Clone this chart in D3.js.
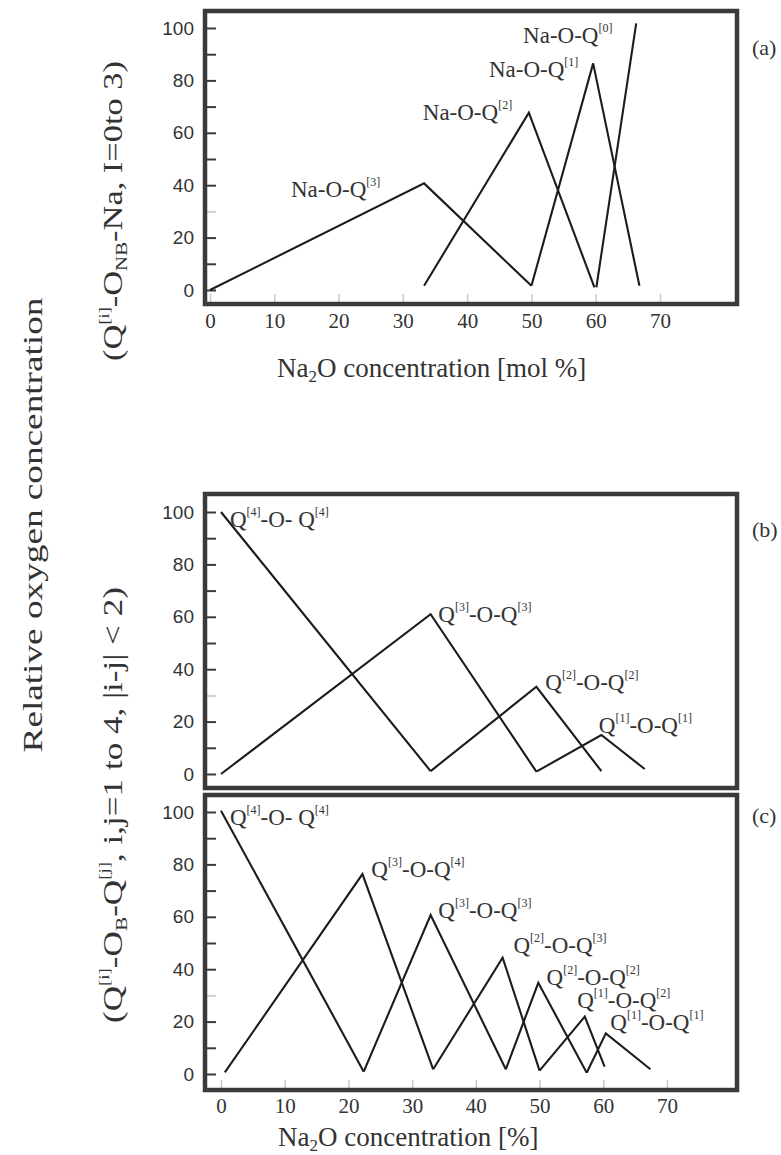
<!DOCTYPE html>
<html>
<head>
<meta charset="utf-8">
<script src="https://cdn.jsdelivr.net/npm/d3@7"></script>
<style>
  html, body { margin: 0; padding: 0; background: #ffffff; }
  svg { display: block; }
  text { white-space: pre; }
  .serif { font-family: "Liberation Serif", "Times New Roman", Times, serif; }
  .sans { font-family: "Liberation Sans", Arial, Helvetica, sans-serif; }
</style>
</head>
<body>
<svg id="fig" width="781" height="1155"></svg>
<script>
// ---- data -------------------------------------------------------------
const xTicks = [0, 10, 20, 30, 40, 50, 60, 70];
const yTicks = [0, 10, 20, 30, 40, 50, 60, 70, 80, 90, 100];
const yTickLabels = [0, 20, 40, 60, 80, 100];

// (a) non-bridging oxygens Na-O-Q[n]
const naOQ3 = [[0, 0], [33.3, 40.7], [50, 1.6]];
const naOQ2 = [[33.3, 1.6], [49.6, 67.7], [59.8, 1.0]];
const naOQ1 = [[50, 1.6], [59.6, 86.5], [66.8, 1.6]];
const naOQ0 = [[60.1, 1.0], [66.3, 101.8]];

// (b) bridging oxygens between equal Q species
const bQ4Q4 = [[0, 100], [32.9, 1.1]];
const bQ3Q3 = [[0, 0], [32.9, 61.0], [49.5, 0.9]];
const bQ2Q2 = [[32.9, 1.1], [49.5, 33.3], [59.7, 1.1]];
const bQ1Q1 = [[49.5, 0.9], [59.7, 14.9], [66.5, 1.9]];

// (c) bridging oxygens, |i-j| < 2
const cQ4Q4 = [[0, 100.5], [22.4, 0.9]];
const cQ3Q4 = [[0.6, 0.6], [22.2, 76.3], [33.3, 1.8]];
const cQ3Q3 = [[22.4, 0.9], [32.9, 60.7], [44.7, 1.8]];
const cQ2Q3 = [[33.3, 1.8], [44.2, 44.4], [50, 1.3]];
const cQ2Q2 = [[44.7, 1.8], [49.8, 34.8], [57.4, 0.5]];
const cQ1Q2 = [[50, 1.3], [57.1, 21.9], [60.2, 2.8]];
const cQ1Q1 = [[57.4, 0.5], [60.4, 15.5], [67.4, 1.8]];

// ---- helpers ----------------------------------------------------------
const INK = "#333333";
const LINE = "#1c1c1c";
const FRAME = "#3a3a3a";

const svg = d3.select("#fig");

function rich(textSel, parts, o) {
  let off = 0;
  parts.forEach(([t, k]) => {
    const target = k === "sup" ? -o.supShift : k === "sub" ? o.subShift : 0;
    const ts = textSel.append("tspan").text(t);
    if (target !== off) { ts.attr("dy", target - off); off = target; }
    if (k === "sup") ts.style("font-size", o.supSize + "px");
    if (k === "sub") ts.style("font-size", o.subSize + "px");
  });
  return textSel;
}

const Q = (a, mid, b) => [["Q", "n"], ["[" + a + "]", "sup"], [mid + "Q", "n"], ["[" + b + "]", "sup"]];
const labelOpts = { supSize: 12, supShift: 11, subSize: 15, subShift: 5 };

function panel(cfg) {
  const x = d3.scaleLinear().domain([0, 70]).range(cfg.xRange);
  const y = d3.scaleLinear().domain([0, 100]).range(cfg.yRange);
  const g = svg.append("g");

  // y ticks inside the frame, labels outside
  const yAxis = d3.axisLeft(y)
    .tickValues(yTicks)
    .tickSize(-11)
    .tickPadding(11)
    .tickFormat(d => yTickLabels.includes(d) ? d : "");
  const ya = g.append("g").attr("transform", `translate(${cfg.frame[0]},0)`).call(yAxis);
  ya.attr("font-family", null).attr("font-size", null);
  ya.select(".domain").remove();
  ya.selectAll(".tick line").attr("stroke", d => d === 30 ? "#d0d0d0" : "#3a3a3a").attr("stroke-width", 2);
  ya.selectAll(".tick text").attr("class", "sans").style("font-size", "19px").attr("fill", INK);

  if (cfg.xAxis) {
    const xAxis = d3.axisBottom(x).tickValues(xTicks).tickSize(-10).tickPadding(cfg.xPad);
    const xa = g.append("g").attr("transform", `translate(0,${cfg.frame[3]})`).call(xAxis);
    xa.attr("font-family", null).attr("font-size", null);
    xa.select(".domain").remove();
    xa.selectAll(".tick line").attr("stroke", "#c8c8c8").attr("stroke-width", 1.5);
    xa.selectAll(".tick text").attr("class", "serif").style("font-size", "21px").attr("fill", INK);
  }

  const line = d3.line().x(d => x(d[0])).y(d => y(d[1]));
  g.selectAll("path.series").data(cfg.series).join("path")
    .attr("class", "series")
    .attr("d", line)
    .attr("fill", "none")
    .attr("stroke", LINE)
    .attr("stroke-width", 2.1)
    .attr("stroke-linejoin", "miter");

  cfg.labels.forEach(l => {
    const t = g.append("text")
      .attr("class", "serif")
      .attr("x", x(l.at[0])).attr("y", y(l.at[1]))
      .style("font-size", "23px").attr("fill", INK);
    rich(t, l.parts, labelOpts);
  });

  // frame
  const [x0, x1, y0, y1] = cfg.frame;
  g.append("rect")
    .attr("x", x0).attr("y", y0).attr("width", x1 - x0).attr("height", y1 - y0)
    .attr("fill", "none").attr("stroke", FRAME).attr("stroke-width", 4.5);

  g.append("text")
    .attr("class", "serif")
    .attr("x", 752).attr("y", cfg.tagY)
    .style("font-size", "22px").attr("fill", INK)
    .text(cfg.tag);
}

// ---- panels -----------------------------------------------------------
panel({
  frame: [205, 737, 11, 304],
  xRange: [210, 660], yRange: [290, 28],
  xAxis: true, xPad: 9,
  series: [naOQ3, naOQ2, naOQ1, naOQ0],
  labels: [
    { at: [12.6, 35.5], parts: [["Na-O-Q", "n"], ["[3]", "sup"]] },
    { at: [33.1, 64.9], parts: [["Na-O-Q", "n"], ["[2]", "sup"]] },
    { at: [43.4, 81.4], parts: [["Na-O-Q", "n"], ["[1]", "sup"]] },
    { at: [48.7, 94.2], parts: [["Na-O-Q", "n"], ["[0]", "sup"]] }
  ],
  tag: "(a)", tagY: 55
});

panel({
  frame: [205, 737, 494, 788],
  xRange: [221, 667], yRange: [774, 512],
  xAxis: false,
  series: [bQ4Q4, bQ3Q3, bQ2Q2, bQ1Q1],
  labels: [
    { at: [1.4, 94.4], parts: Q(4, "-O- ", 4) },
    { at: [34.1, 58.1], parts: Q(3, "-O-", 3) },
    { at: [50.9, 32.1], parts: Q(2, "-O-", 2) },
    { at: [59.3, 15.6], parts: Q(1, "-O-", 1) }
  ],
  tag: "(b)", tagY: 537
});

panel({
  frame: [205, 737, 795, 1090],
  xRange: [221, 667], yRange: [1074, 812],
  xAxis: true, xPad: 8,
  series: [cQ4Q4, cQ3Q4, cQ3Q3, cQ2Q3, cQ2Q2, cQ1Q2, cQ1Q1],
  labels: [
    { at: [1.4, 95.0], parts: Q(4, "-O- ", 4) },
    { at: [23.6, 75.3], parts: Q(3, "-O-", 4) },
    { at: [34.1, 59.4], parts: Q(3, "-O-", 3) },
    { at: [45.9, 46.1], parts: Q(2, "-O-", 3) },
    { at: [51.1, 34.0], parts: Q(2, "-O-", 2) },
    { at: [55.9, 25.1], parts: Q(1, "-O-", 2) },
    { at: [61.1, 16.8], parts: Q(1, "-O-", 1) }
  ],
  tag: "(c)", tagY: 823
});

// ---- axis titles --------------------------------------------------------
const titleOpts = { supSize: 15, supShift: 13, subSize: 17, subShift: 5 };

rich(svg.append("text").attr("class", "serif").attr("x", 277).attr("y", 377)
  .style("font-size", "27px").attr("fill", INK),
  [["Na", "n"], ["2", "sub"], ["O concentration [mol %]", "n"]], titleOpts);

rich(svg.append("text").attr("class", "serif").attr("x", 278).attr("y", 1146)
  .style("font-size", "27px").attr("fill", INK),
  [["Na", "n"], ["2", "sub"], ["O concentration [%]", "n"]], titleOpts);

// rotated titles, stretched along the reading direction to their span
function vertTitle(cx, cy, span, parts) {
  const g = svg.append("g");
  const t = g.append("text")
    .attr("class", "serif")
    .attr("text-anchor", "middle")
    .style("font-size", "28px").attr("fill", INK);
  rich(t, parts, titleOpts);
  const len = t.node().getComputedTextLength();
  g.attr("transform", `translate(${cx},${cy}) rotate(-90) scale(${span / len},1)`);
}

vertTitle(42, 525, 455, [["Relative oxygen concentration", "n"]]);
vertTitle(122, 211, 300,
  [["(Q", "n"], ["[i]", "sup"], ["-O", "n"], ["NB", "sub"], ["-Na, I=0to 3)", "n"]]);
vertTitle(122, 805, 436,
  [["(Q", "n"], ["[i]", "sup"], ["-O", "n"], ["B", "sub"], ["-Q", "n"], ["[j]", "sup"],
   [", i,j=1 to 4, |i-j| < 2)", "n"]]);
</script>
</body>
</html>
